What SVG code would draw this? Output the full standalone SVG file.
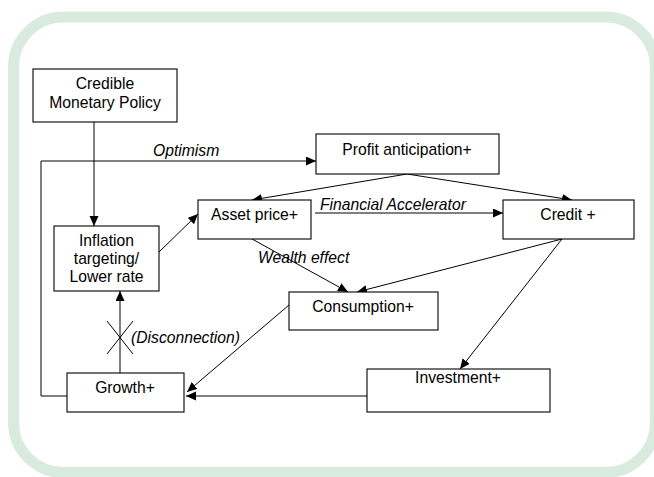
<svg xmlns="http://www.w3.org/2000/svg" width="654" height="477" viewBox="0 0 654 477">
<style>
.box{fill:#fff;stroke:#000;stroke-width:1.1}
.t{font-family:"Liberation Sans",Arial,sans-serif;font-size:15.7px;fill:#000;text-anchor:middle}
.lab{font-family:"Liberation Sans",Arial,sans-serif;font-size:15.7px;font-style:italic;fill:#000}
.c{fill:none;stroke:#000;stroke-width:1}
.a{marker-end:url(#ah)}
</style>
<defs>
<marker id="ah" markerUnits="userSpaceOnUse" markerWidth="11" markerHeight="10" refX="10" refY="4.5" orient="auto">
<path d="M0,0 L10,4.5 L0,9 z" fill="#000"/>
</marker>
</defs>
<rect x="0" y="0" width="654" height="477" fill="#fff"/>
<rect id="frame" x="13.5" y="17" width="642" height="455.5" rx="50" ry="50" fill="none" stroke="#d9ebdf" stroke-width="11"/>
<g id="connectors">
<path class="c a" d="M94,122 V226"/>
<path class="c a" d="M67,396 H41 V161 H316"/>
<path class="c a" d="M159,252 L198,214"/>
<path class="c a" d="M407,174 L252,200"/>
<path class="c a" d="M407,174 L572,200"/>
<path class="c a" d="M315,213 H503"/>
<path class="c a" d="M252,239 L348,292"/>
<path class="c a" d="M562,239 L357,292"/>
<path class="c a" d="M562,239 L460,369"/>
<path class="c a" d="M289,305 L187,392"/>
<path class="c a" d="M367,396 H186"/>
<path class="c a" d="M120,373 V291"/>
<path class="c" d="M107,321 L133,354 M133,321 L107,354"/>
<text class="lab" x="153" y="156">Optimism</text>
<text class="lab" x="320" y="210">Financial Accelerator</text>
<text class="lab" x="258" y="263">Wealth effect</text>
<text class="lab" x="131" y="343">(Disconnection)</text>
</g>
<g id="credible">
<rect class="box" x="33" y="69" width="144" height="53"/>
<text class="t" x="105" y="89">Credible</text>
<text class="t" x="105" y="108">Monetary Policy</text>
</g>
<g id="inflation">
<rect class="box" x="54" y="226" width="105" height="65"/>
<text class="t" x="106.5" y="246">Inflation</text>
<text class="t" x="106.5" y="264">targeting/</text>
<text class="t" x="106.5" y="282">Lower rate</text>
</g>
<g id="asset">
<rect class="box" x="198" y="200" width="113" height="39"/>
<text class="t" x="254.5" y="220">Asset price+</text>
</g>
<g id="profit">
<rect class="box" x="316" y="134" width="183" height="40"/>
<text class="t" x="407" y="155">Profit anticipation+</text>
</g>
<g id="credit">
<rect class="box" x="503" y="200" width="131" height="39"/>
<text class="t" x="568" y="220">Credit +</text>
</g>
<g id="consumption">
<rect class="box" x="289" y="292" width="149" height="38"/>
<text class="t" x="363" y="312">Consumption+</text>
</g>
<g id="growth">
<rect class="box" x="67" y="373" width="117" height="39"/>
<text class="t" x="125" y="393">Growth+</text>
</g>
<g id="investment">
<rect class="box" x="367" y="369" width="183" height="43"/>
<text class="t" x="458" y="383">Investment+</text>
</g>
</svg>
